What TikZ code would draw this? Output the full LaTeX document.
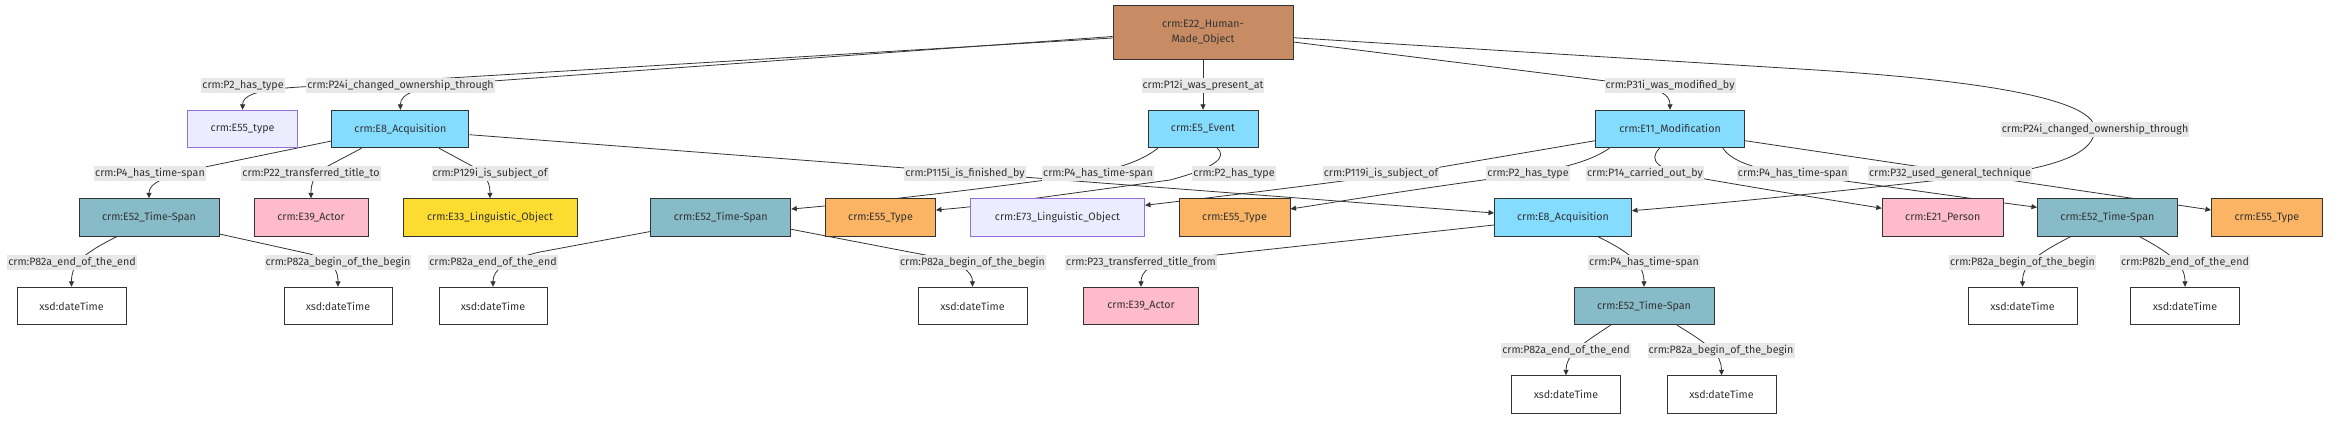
\documentclass[tikz,border=0pt]{standalone}
\usepackage{fontspec}
\setmainfont{Fira Sans}
\usetikzlibrary{calc,arrows.meta}
\pgfdeclarelayer{background}
\pgfsetlayers{background,main}
\definecolor{cdark}{HTML}{333333}
\definecolor{cbrown}{HTML}{C78C63}
\definecolor{cblue}{HTML}{84DCFE}
\definecolor{cteal}{HTML}{86BBC7}
\definecolor{cpink}{HTML}{FEBBCA}
\definecolor{cyellow}{HTML}{FDDC32}
\definecolor{corange}{HTML}{FAB464}
\definecolor{clav}{HTML}{ECECFF}
\definecolor{clavb}{HTML}{9370DB}
\definecolor{clbg}{HTML}{E8E8E8}
\begin{document}
\begin{tikzpicture}[x=1pt,y=-1pt,
  font=\fontsize{10.7}{15}\selectfont,
  box/.style={draw=cdark, line width=0.9pt, minimum height=37.5pt, inner sep=0pt, text=cdark},
  ent/.style={box, fill=cblue},
  tspan/.style={box, fill=cteal},
  actor/.style={box, fill=cpink},
  typ/.style={box, fill=corange},
  lav/.style={box, fill=clav, draw=clavb},
  yel/.style={box, fill=cyellow},
  lit/.style={box, fill=white},
  lbl/.style={fill=clbg, text=cdark, inner xsep=1pt, inner ysep=2pt, text height=8.5pt, text depth=2.5pt},
  edge/.style={draw=cdark, line width=0.8pt, -{Triangle[length=5.5pt,width=5pt]}}
]
\useasboundingbox (0,0) rectangle (2352,426);
% nodes
\node[box, fill=cbrown, minimum width=180pt, minimum height=54pt, align=center] (e22) at (1203,32) {crm:E22\_Human-\\Made\_Object};
\node[lav, minimum width=110pt] (e55a) at (242.6,129) {crm:E55\_type};
\node[ent, minimum width=137pt] (e8a) at (400.4,129) {crm:E8\_Acquisition};
\node[ent, minimum width=110pt] (e5) at (1203,129) {crm:E5\_Event};
\node[ent, minimum width=149pt] (e11) at (1670,129) {crm:E11\_Modification};
\node[tspan, minimum width=140pt] (e52a) at (149,217.5) {crm:E52\_Time-Span};
\node[actor, minimum width=114pt] (e39a) at (311,217.5) {crm:E39\_Actor};
\node[yel, minimum width=174pt] (e33) at (490,217.5) {crm:E33\_Linguistic\_Object};
\node[tspan, minimum width=140pt] (e52b) at (720.8,217.5) {crm:E52\_Time-Span};
\node[typ, minimum width=110pt] (e55b) at (880.5,217.5) {crm:E55\_Type};
\node[lav, minimum width=174pt] (e73) at (1057.5,217.5) {crm:E73\_Linguistic\_Object};
\node[typ, minimum width=111pt] (e55c) at (1234.5,217.5) {crm:E55\_Type};
\node[ent, minimum width=137pt] (e8b) at (1563,217.5) {crm:E8\_Acquisition};
\node[actor, minimum width=121pt] (e21) at (1942.7,217.5) {crm:E21\_Person};
\node[tspan, minimum width=140pt] (e52c) at (2107.4,217.5) {crm:E52\_Time-Span};
\node[typ, minimum width=111pt] (e55d) at (2266.9,217.5) {crm:E55\_Type};
\node[lit, minimum width=109pt] (x1) at (71.5,306) {xsd:dateTime};
\node[lit, minimum width=108pt] (x2) at (338,306) {xsd:dateTime};
\node[lit, minimum width=108pt] (x3) at (493,306) {xsd:dateTime};
\node[lit, minimum width=109pt] (x4) at (972.5,306) {xsd:dateTime};
\node[actor, minimum width=115pt] (e39b) at (1141,306) {crm:E39\_Actor};
\node[tspan, minimum width=140pt] (e52d) at (1644,306) {crm:E52\_Time-Span};
\node[lit, minimum width=109pt] (x5) at (2022.5,306) {xsd:dateTime};
\node[lit, minimum width=109pt] (x6) at (2185,306) {xsd:dateTime};
\node[lit, minimum width=108.5pt] (x7) at (1566,394.5) {xsd:dateTime};
\node[lit, minimum width=109pt] (x8) at (1721.5,394.5) {xsd:dateTime};
% labels
\node[lbl] (l1) at (243,85) {crm:P2\_has\_type};
\node[lbl] (l2) at (400.5,85) {crm:P24i\_changed\_ownership\_through};
\node[lbl] (l3) at (1203,85) {crm:P12i\_was\_present\_at};
\node[lbl] (l4) at (1670,85) {crm:P31i\_was\_modified\_by};
\node[lbl] (l5) at (2095,129) {crm:P24i\_changed\_ownership\_through};
\node[lbl] (l6) at (150,173) {crm:P4\_has\_time-span};
\node[lbl] (l7) at (311,173) {crm:P22\_transferred\_title\_to};
\node[lbl] (l8) at (490,173) {crm:P129i\_is\_subject\_of};
\node[lbl] (l9) at (965,173) {crm:P115i\_is\_finished\_by};
\node[lbl] (l10) at (1098,173) {crm:P4\_has\_time-span};
\node[lbl] (l11) at (1234,173) {crm:P2\_has\_type};
\node[lbl] (l12) at (1381,173) {crm:P119i\_is\_subject\_of};
\node[lbl] (l13) at (1528,173) {crm:P2\_has\_type};
\node[lbl] (l14) at (1645,173) {crm:P14\_carried\_out\_by};
\node[lbl] (l15) at (1792.7,173) {crm:P4\_has\_time-span};
\node[lbl] (l16) at (1950,173) {crm:P32\_used\_general\_technique};
\node[lbl] (l17) at (72,262) {crm:P82a\_end\_of\_the\_end};
\node[lbl] (l18) at (338,262) {crm:P82a\_begin\_of\_the\_begin};
\node[lbl] (l19) at (493,262) {crm:P82a\_end\_of\_the\_end};
\node[lbl] (l20) at (972.5,262) {crm:P82a\_begin\_of\_the\_begin};
\node[lbl] (l21) at (1141,262) {crm:P23\_transferred\_title\_from};
\node[lbl] (l22) at (1644,262) {crm:P4\_has\_time-span};
\node[lbl] (l23) at (2022.5,262) {crm:P82a\_begin\_of\_the\_begin};
\node[lbl] (l24) at (2185,262) {crm:P82b\_end\_of\_the\_end};
\node[lbl] (l25) at (1566,350) {crm:P82a\_end\_of\_the\_end};
\node[lbl] (l26) at (1721,350) {crm:P82a\_begin\_of\_the\_begin};
% edges
\begin{pgfonlayer}{background}
\draw[edge] ($(e22.west)+(0,6)$) -- (300,87) .. controls (255,89.5) and (242.6,96) .. (e55a.north);
\draw[edge] ($(e22.west)+(0,4.5)$) -- (465,83) .. controls (418,87) and (400.4,93) .. (e8a.north);
\draw[edge] (e22.south) -- (l3.center) -- (e5.north);
\draw[edge] ($(e22.east)+(0,10)$) -- (1630,84) .. controls (1660,88) and (1670,95) .. (e11.north);
\draw[edge] ($(e22.east)+(0,5.7)$) -- (1800,69) .. controls (1950,78) and (2094,95) .. (l5.center) .. controls (2094,152) and (2062,163) .. (2020,171) .. controls (1800,196) and (1700,205) .. ($(e8b.east)+(0,-6.8)$);
\draw[edge] ($(e8a.west)+(0,12)$) -- (205,167) .. controls (162,176) and (149,184) .. (e52a.north);
\draw[edge] ($(e8a.south)+(-38.8,0)$) -- (328,166) .. controls (314,174) and (311,183) .. (e39a.north);
\draw[edge] ($(e8a.south)+(38.6,0)$) -- (472,166) .. controls (486,174) and (490,183) .. (e33.north);
\draw[edge] ($(e8a.east)+(0,5.7)$) -- ($(e8b.west)+(0,-4.5)$);
\draw[edge] ($(e5.south)+(-45,0)$) .. controls (1140,162) and (1115,170) .. (1075,176) .. controls (960,192) and (850,204) .. ($(e52b.east)+(0,-8.5)$);
\draw[edge] ($(e5.south)+(14,0)$) .. controls (1228,157) and (1215,168) .. (1170,180) -- (1030,199) .. controls (990,205) and (960,208) .. ($(e55b.east)+(0,-7.5)$);
\draw[edge] ($(e11.west)+(0,11.7)$) -- (1441,167) .. controls (1380,177) and (1250,193) .. ($(e73.east)+(0,-12.2)$);
\draw[edge] ($(e11.south)+(-60.5,0)$) .. controls (1595,158) and (1575,166) .. (1528,174) .. controls (1420,188) and (1330,203) .. ($(e55c.east)+(0,-8.5)$);
\draw[edge] ($(e11.south)+(-10.4,0)$) .. controls (1648,160) and (1655,171) .. (1705,179) .. controls (1780,192) and (1850,203) .. ($(e21.west)+(0,-9.2)$);
\draw[edge] ($(e11.south)+(52.7,0)$) .. controls (1730,158) and (1745,168) .. (1792,174) .. controls (1900,188) and (1980,200) .. ($(e52c.west)+(0,-10.2)$);
\draw[edge] ($(e11.east)+(0,11.7)$) -- ($(e55d.west)+(0,-7.5)$);
\draw[edge] ($(e52a.south)+(-32.3,0)$) .. controls (80,255) and (71.5,265) .. (x1.north);
\draw[edge] ($(e52a.east)+(0,16.5)$) -- (310,254) .. controls (335,262) and (338,272) .. (x2.north);
\draw[edge] ($(e52b.west)+(0,14)$) -- (540,252) .. controls (505,260) and (493,270) .. (x3.north);
\draw[edge] ($(e52b.east)+(0,11.8)$) -- (920,254) .. controls (962,262) and (972.5,272) .. (x4.north);
\draw[edge] ($(e8b.west)+(0,7.5)$) -- (1180,259) .. controls (1150,262) and (1141,272) .. (e39b.north);
\draw[edge] ($(e8b.south)+(35,0)$) .. controls (1625,250) and (1644,262) .. (e52d.north);
\draw[edge] ($(e52c.south)+(-36.9,0)$) .. controls (2035,255) and (2022.5,265) .. (x5.north);
\draw[edge] ($(e52c.south)+(32.2,0)$) .. controls (2172,254) and (2185,265) .. (x6.north);
\draw[edge] ($(e52d.south)+(-33.4,0)$) .. controls (1580,345) and (1566,355) .. (x7.north);
\draw[edge] ($(e52d.south)+(33,0)$) .. controls (1710,345) and (1721.5,355) .. (x8.north);
\end{pgfonlayer}
\end{tikzpicture}
\end{document}
